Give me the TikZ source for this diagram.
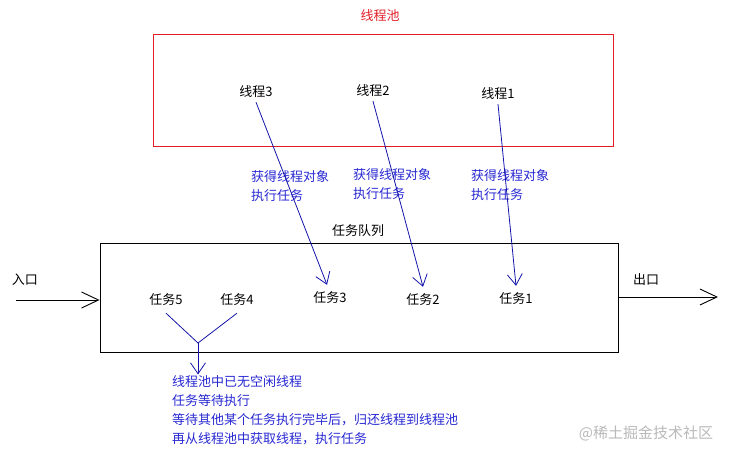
\documentclass[tikz,border=0pt]{standalone}
\usepackage{fontspec}
\setmainfont{Noto Sans CJK SC}
\usetikzlibrary{arrows.meta,positioning}

\definecolor{poolred}{RGB}{225,30,40}
\definecolor{linkblue}{RGB}{20,20,170}
\definecolor{noteblue}{RGB}{40,40,210}

\tikzset{
  txt/.style={inner sep=1pt, font=\fontsize{13}{19}\selectfont},
  thread/.style={txt, inner ysep=4pt},
  task/.style={txt, inner ysep=7pt},
  note/.style={txt, text=noteblue, align=left, anchor=north west},
  link/.style={draw=linkblue, line width=0.8pt, -{Straight Barb[length=11pt,width=15pt]}},
  flow/.style={line width=0.9pt, -{Straight Barb[length=17pt,width=16pt]}},
}

\begin{document}
\begin{tikzpicture}[x=1pt,y=-1pt]%,>=latex]
\useasboundingbox (0,0) rectangle (729,456);

% thread pool
\node [txt, text=poolred] (pooltitle) at (380,16) {线程池};
\node [draw=poolred, line width=0.9pt, minimum width=460pt, minimum height=112pt] (pool) at (383,90) {};
\node [thread] (t3) at (256,92) {线程3};
\node [thread] (t2) at (373,91) {线程2};
\node [thread] (t1) at (498,94) {线程1};

\node [note] (g3) at (250,169.5) {获得线程对象\\执行任务};
\node [note] (g2) at (352,167.5) {获得线程对象\\执行任务};
\node [note] (g1) at (470,168.5) {获得线程对象\\执行任务};

% task queue
\node [txt] (queuetitle) at (358,231) {任务队列};
\node [draw, line width=0.9pt, minimum width=518pt, minimum height=109pt] (queue) at (359,297.5) {};
\node [task] (q5) at (166,300) {任务5};
\node [task] (q4) at (237,300) {任务4};
\node [task] (q3) at (330,298) {任务3};
\node [task] (q2) at (423,300) {任务2};
\node [task] (q1) at (516,299) {任务1};

\draw [link] (t3.south) -- ([xshift=-3pt]q3.north);
\draw [link] (t2.south) -- (q2.north);
\draw [link] (t1.south) -- (q1.north);

% entry and exit
\node [txt] (inlabel) at (25,280) {入口};
\node [txt] (outlabel) at (646,280) {出口};
\coordinate (in) at (16,300);
\coordinate (out) at (718,297);
\draw [flow] (in) -- (in -| queue.west);
\draw [flow] (queue.east |- out) -- (out);

% waiting tasks
\coordinate (fork) at (198,343);
\node [note, inner sep=1pt] (wait) at (171,374.5) {线程池中已无空闲线程\\任务等待执行\\等待其他某个任务执行完毕后，归还线程到线程池\\再从线程池中获取线程，执行任务};
\draw [linkblue, line width=0.8pt] (q5.south) -- (fork) -- (q4.south);
\draw [link] (fork) -- (fork |- wait.north);

\node [text=gray!55, font=\fontsize{15}{18}\selectfont] (mark) at (646,433) {@稀土掘金技术社区};

\end{tikzpicture}
\end{document}
